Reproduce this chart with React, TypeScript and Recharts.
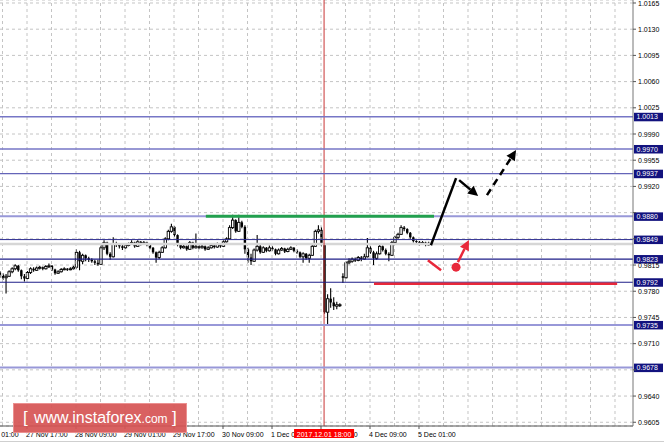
import React from 'react';
import { ComposedChart, Bar, XAxis, YAxis, CartesianGrid, ReferenceLine, ReferenceDot } from 'recharts';

// H1 candles, 27 Nov 08:00 .. 5 Dec 05:00, prices in pips (x 0.0001)
const opens = [
  9805, 9802, 9798, 9800, 9806, 9810, 9814, 9808, 9800, 9797,
  9805, 9810, 9808, 9811, 9812, 9810, 9813, 9814, 9809, 9804,
  9806, 9809, 9810, 9809, 9810, 9812, 9832, 9820, 9828, 9824,
  9822, 9820, 9818, 9816, 9838, 9845, 9830, 9826, 9843, 9842,
  9840, 9838, 9841, 9843, 9845, 9840, 9846, 9843, 9845, 9842,
  9838, 9832, 9825, 9832, 9838, 9850, 9860, 9866, 9855, 9842,
  9838, 9840, 9836, 9845, 9838, 9840, 9838, 9840, 9836, 9838,
  9841, 9839, 9843, 9840, 9846, 9850, 9865, 9875, 9860, 9872,
  9866, 9836, 9825, 9820, 9835, 9840, 9832, 9838, 9834, 9838,
  9836, 9830, 9835, 9837, 9833, 9836, 9838, 9834, 9832, 9826,
  9830, 9824, 9828, 9840, 9860, 9862, 9842, 9752, 9770, 9765,
  9760, 9762, 9800, 9798, 9818, 9820, 9823, 9821, 9825, 9823,
  9826, 9838, 9832, 9824, 9830, 9840, 9835, 9830, 9828, 9845,
  9852, 9856, 9865, 9863, 9858, 9852, 9847, 9846, 9843, 9845,
  9842, 9844,
];
const highs = [
  9807, 9804, 9803, 9808, 9812, 9816, 9815, 9809, 9803, 9807,
  9812, 9812, 9813, 9814, 9813, 9815, 9817, 9815, 9810, 9808,
  9811, 9812, 9811, 9812, 9814, 9836, 9834, 9830, 9829, 9826,
  9824, 9822, 9822, 9842, 9848, 9846, 9832, 9852, 9846, 9844,
  9842, 9843, 9845, 9848, 9846, 9848, 9847, 9847, 9846, 9843,
  9839, 9833, 9834, 9840, 9852, 9862, 9870, 9867, 9856, 9844,
  9843, 9841, 9847, 9846, 9857, 9842, 9842, 9841, 9840, 9843,
  9842, 9845, 9844, 9848, 9852, 9868, 9882, 9876, 9882, 9874,
  9868, 9838, 9830, 9837, 9855, 9842, 9840, 9839, 9841, 9840,
  9837, 9837, 9839, 9838, 9838, 9840, 9839, 9836, 9833, 9832,
  9831, 9830, 9842, 9862, 9868, 9866, 9843, 9776, 9784, 9772,
  9766, 9764, 9804, 9820, 9824, 9825, 9825, 9827, 9827, 9830,
  9851, 9840, 9834, 9833, 9842, 9841, 9837, 9832, 9847, 9854,
  9858, 9868, 9867, 9864, 9859, 9853, 9848, 9847, 9847, 9846,
  9846, 9845,
];
const lows = [
  9798, 9795, 9777, 9799, 9804, 9808, 9806, 9796, 9793, 9796,
  9803, 9806, 9807, 9809, 9808, 9809, 9811, 9807, 9802, 9803,
  9805, 9808, 9807, 9808, 9809, 9810, 9808, 9816, 9820, 9819,
  9818, 9815, 9814, 9815, 9835, 9828, 9822, 9825, 9839, 9837,
  9835, 9837, 9840, 9842, 9838, 9839, 9841, 9842, 9840, 9836,
  9830, 9818, 9823, 9831, 9837, 9848, 9858, 9853, 9840, 9836,
  9837, 9834, 9835, 9836, 9837, 9836, 9837, 9834, 9835, 9837,
  9837, 9838, 9838, 9839, 9845, 9849, 9863, 9858, 9859, 9864,
  9830, 9818, 9815, 9819, 9833, 9830, 9831, 9832, 9833, 9834,
  9828, 9829, 9834, 9831, 9832, 9835, 9832, 9830, 9824, 9818,
  9822, 9818, 9827, 9839, 9857, 9840, 9750, 9735, 9758, 9755,
  9756, 9759, 9791, 9797, 9816, 9818, 9819, 9820, 9820, 9822,
  9825, 9830, 9815, 9822, 9829, 9833, 9828, 9820, 9827, 9843,
  9850, 9855, 9860, 9856, 9850, 9845, 9843, 9841, 9842, 9840,
  9841, 9841,
];
const closes = [
  9802, 9798, 9800, 9806, 9810, 9814, 9808, 9800, 9797, 9805,
  9810, 9808, 9811, 9812, 9810, 9813, 9814, 9809, 9804, 9806,
  9809, 9810, 9809, 9810, 9812, 9832, 9820, 9828, 9824, 9822,
  9820, 9818, 9816, 9838, 9845, 9830, 9826, 9843, 9842, 9840,
  9838, 9841, 9843, 9845, 9840, 9846, 9843, 9845, 9842, 9838,
  9832, 9825, 9832, 9838, 9850, 9860, 9866, 9855, 9842, 9838,
  9840, 9836, 9845, 9838, 9840, 9838, 9840, 9836, 9838, 9841,
  9839, 9843, 9840, 9846, 9850, 9865, 9875, 9860, 9872, 9866,
  9836, 9825, 9820, 9835, 9840, 9832, 9838, 9834, 9838, 9836,
  9830, 9835, 9837, 9833, 9836, 9838, 9834, 9832, 9826, 9830,
  9824, 9828, 9840, 9860, 9862, 9842, 9752, 9770, 9765, 9760,
  9762, 9762, 9798, 9818, 9820, 9823, 9821, 9825, 9823, 9826,
  9838, 9832, 9824, 9830, 9840, 9835, 9830, 9828, 9845, 9852,
  9856, 9865, 9863, 9858, 9852, 9847, 9846, 9843, 9845, 9842,
  9844, 9843,
];

const xTickValues = [-7, 9, 25, 41, 57, 73, 89, 105, 106, 121, 137];
const xTickLabels = [
  '27 Nov 01:00', '27 Nov 17:00', '28 Nov 09:00', '29 Nov 01:00', '29 Nov 17:00',
  '30 Nov 09:00', '1 Dec 01:00', '1 Dec 17:00', '2017.12.01 18:00', '4 Dec 09:00', '5 Dec 01:00',
];
const crosshairBar = 106;
const gridBars = [1, 9, 17, 25, 33, 41, 49, 57, 65, 73, 81, 89, 97, 105, 113, 121, 129, 137, 145, 153, 161, 169, 177, 185, 193, 201];

const yTicks = [
  0.9605, 0.964, 0.9675, 0.971, 0.9745, 0.978, 0.9815, 0.985, 0.9885,
  0.992, 0.9955, 0.999, 1.0025, 1.006, 1.0095, 1.013, 1.0165,
];
const levelValues = [1.0013, 0.997, 0.9937, 0.988, 0.9849, 0.9823, 0.9792, 0.9735, 0.9678];
const levelColors = ['#7676c6', '#7676c6', '#6464b8', '#9898d8', '#2c2c90', '#1e1e88', '#1e1e88', '#9898d8', '#9898d8'];
const levelWidths = [1.5, 1.5, 1.3, 2, 1, 1.2, 1.2, 2, 2];

// annotations, as [bar, price]
const resistance = [[67.4, 0.988], [141.9, 0.988]];
const support = [[122.3, 0.979], [201.7, 0.979]];
const legUp = [[140.9, 0.98416], [149.1, 0.99311]];
const legDown = [[150.1, 0.99284], [156.3, 0.99071]];
const legNext = [[159.2, 0.99084], [168.7, 0.99685]];
const altDip = [[139.9, 0.98215], [144.2, 0.98081]];
const altDot = [149.1, 0.98122];
const altUp = [[149.7, 0.98189], [153.3, 0.98483]];

const FONT = '"Liberation Sans", Arial, sans-serif';

const candles = opens.map((o, i) => ({
  i,
  o: o / 1e4,
  h: highs[i] / 1e4,
  l: lows[i] / 1e4,
  c: closes[i] / 1e4,
  range: [lows[i] / 1e4, highs[i] / 1e4],
}));

const Candle = (p: any) => {
  const { x, y, width, height, payload } = p;
  if (x == null || y == null) return null;
  const top = Math.min(y, y + height);
  const span = Math.abs(height);
  const k = span / (payload.h - payload.l);
  const cx = x + width / 2;
  const bTop = top + (payload.h - Math.max(payload.o, payload.c)) * k;
  const bBot = top + (payload.h - Math.min(payload.o, payload.c)) * k;
  const bull = payload.c >= payload.o;
  return (
    <g>
      <line x1={cx} y1={top} x2={cx} y2={top + span} stroke="#000" strokeWidth={1.1} />
      <rect
        x={cx - 1.2}
        y={bTop}
        width={2.4}
        height={Math.max(bBot - bTop, 1)}
        fill={bull ? '#fff' : '#000'}
        stroke="#000"
        strokeWidth={bull ? 0.9 : 0}
      />
    </g>
  );
};

const arrow = (color: string, head: boolean, dash?: string) => (p: any) => {
  const { x1, y1, x2, y2 } = p;
  const dx = x2 - x1;
  const dy = y2 - y1;
  const len = Math.hypot(dx, dy) || 1;
  const ux = dx / len;
  const uy = dy / len;
  const hl = 10;
  const hw = 5;
  const bx = x2 - ux * hl;
  const by = y2 - uy * hl;
  return (
    <g>
      <line
        x1={x1}
        y1={y1}
        x2={head ? bx : x2}
        y2={head ? by : y2}
        stroke={color}
        strokeWidth={2.5}
        strokeDasharray={dash}
      />
      {head && (
        <polygon
          points={`${x2},${y2} ${bx - uy * hw},${by + ux * hw} ${bx + uy * hw},${by - ux * hw}`}
          fill={color}
        />
      )}
    </g>
  );
};

const XTick = (p: any) => {
  const { x, y, payload } = p;
  const idx = xTickValues.indexOf(payload.value);
  const label = xTickLabels[idx];
  if (payload.value === crosshairBar) {
    return (
      <g>
        <rect x={x - 30} y={y + 3} width={60} height={9} fill="#ff0000" />
        <text x={x} y={y + 10.5} textAnchor="middle" fontSize={7} fontFamily={FONT} fill="#fff">
          {label}
        </text>
      </g>
    );
  }
  return (
    <g>
      <line x1={x} y1={y} x2={x} y2={y + 3} stroke="#555" />
      <text x={x - 1} y={y + 10.5} fontSize={7} fontFamily={FONT} fill="#000">
        {label}
      </text>
    </g>
  );
};

const YTick = (p: any) => {
  const { x, y, payload } = p;
  const v = payload.value as number;
  const covered = levelValues.some((l) => Math.abs(l - v) < 0.0006);
  return (
    <g>
      <line x1={x} y1={y} x2={x + 3} y2={y} stroke="#555" />
      {!covered && (
        <text x={x + 5} y={y + 2.5} fontSize={7} fontFamily={FONT} fill="#000">
          {v.toFixed(4)}
        </text>
      )}
    </g>
  );
};

const levelTag = (v: number) => (p: any) => {
  const vb = p.viewBox;
  if (!vb) return null;
  const right = vb.x + vb.width;
  return (
    <g>
      <rect x={right + 1} y={vb.y - 4} width={29} height={8.5} fill="#12127e" />
      <text x={right + 3.5} y={vb.y + 2.6} fontSize={7} fontFamily={FONT} fill="#fff">
        {v.toFixed(4)}
      </text>
    </g>
  );
};

export default function App() {
  const seg = (s: number[][]) => s.map(([x, y]) => ({ x, y }));
  return (
    <div style={{ position: 'absolute', left: 0, top: 0, width: 664, height: 443, background: '#fff' }}>
      <ComposedChart
        width={664}
        height={443}
        data={candles}
        margin={{ top: 0, right: 0, bottom: 0, left: 0 }}
      >
        <CartesianGrid horizontal vertical={false} stroke="#c4c4c4" strokeDasharray="3 3" />
        {gridBars.map((g) => (
          <ReferenceLine key={'g' + g} x={g} stroke="#c4c4c4" strokeDasharray="3 3" />
        ))}
        <XAxis
          type="number"
          dataKey="i"
          domain={[0.18, 206.88]}
          allowDataOverflow
          ticks={xTickValues}
          interval={0}
          tick={XTick}
          tickLine={false}
          tickSize={0}
          tickMargin={0}
          axisLine={{ stroke: '#555' }}
          height={17}
        />
        <YAxis
          orientation="right"
          domain={[0.96, 1.0169]}
          allowDataOverflow
          ticks={yTicks}
          interval={0}
          tick={YTick}
          tickLine={false}
          tickSize={0}
          tickMargin={0}
          axisLine={{ stroke: '#777' }}
          width={31}
        />
        <ReferenceLine y={closes[closes.length - 1] / 1e4} stroke="#d6d6d6" strokeWidth={2.5} />
        <Bar dataKey="range" barSize={2} shape={Candle} isAnimationActive={false} />
        <ReferenceLine x={crosshairBar} stroke="#c83434" strokeWidth={1} />
        {levelValues.map((v, k) => (
          <ReferenceLine
            key={'l' + v}
            y={v}
            stroke={levelColors[k]}
            strokeWidth={levelWidths[k]}
            label={levelTag(v)}
          />
        ))}
        <ReferenceLine segment={seg(resistance)} stroke="#22a04e" strokeWidth={3} />
        <ReferenceLine segment={seg(support)} stroke="#e8283a" strokeWidth={2.5} />
        <ReferenceLine segment={seg(legUp)} shape={arrow('#000', false)} />
        <ReferenceLine segment={seg(legDown)} shape={arrow('#000', true)} />
        <ReferenceLine segment={seg(legNext)} shape={arrow('#000', true, '7 5')} />
        <ReferenceLine segment={seg(altDip)} shape={arrow('#e8283a', false)} />
        <ReferenceLine segment={seg(altUp)} shape={arrow('#e8283a', true)} />
        <ReferenceDot x={altDot[0]} y={altDot[1]} r={4.5} fill="#e8283a" stroke="none" />
      </ComposedChart>
      <div
        style={{
          position: 'absolute',
          left: 13,
          top: 403,
          width: 172,
          height: 28,
          background: 'rgba(214, 84, 84, 0.92)',
          border: '1px solid rgba(236, 150, 150, 0.9)',
          color: '#fff',
          fontFamily: FONT,
          whiteSpace: 'nowrap',
          lineHeight: '28px',
        }}
      >
        <span style={{ position: 'absolute', left: 9, fontSize: 17 }}>[</span>
        <span style={{ position: 'absolute', left: 20, fontSize: 16 }}>
          www.instaforex<span style={{ fontSize: 12 }}>.com</span>
        </span>
        <span style={{ position: 'absolute', left: 158, fontSize: 17 }}>]</span>
      </div>
      <div style={{ position: 'absolute', left: 0, top: 441, width: 664, height: 1, background: '#cfcfcf' }} />
    </div>
  );
}
